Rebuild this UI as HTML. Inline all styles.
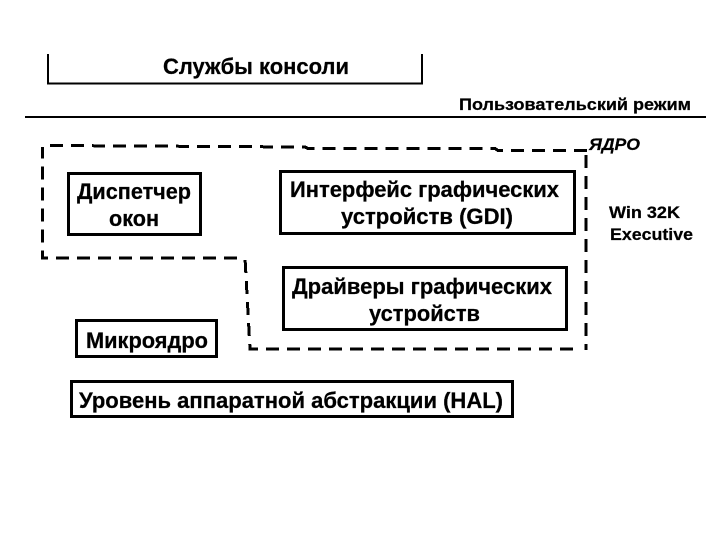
<!DOCTYPE html>
<html lang="ru">
<head>
<meta charset="utf-8">
<style>
html,body{margin:0;padding:0;background:#fff;}
svg{display:block;}
text{font-family:"Liberation Sans",sans-serif;font-weight:bold;fill:#000;stroke:#000;stroke-width:.25;}
.t{font-size:22px;}
.s{font-size:17px;}
</style>
</head>
<body>
<svg width="720" height="540" viewBox="0 0 720 540" xmlns="http://www.w3.org/2000/svg">
<rect width="720" height="540" fill="#fff"/>
<g fill="none" stroke="#000" shape-rendering="crispEdges">
<path d="M48 54V83.500H422V54" stroke-width="2"/>
<path d="M25 117H706" stroke-width="2"/>
<rect x="68.500" y="173.500" width="132" height="61" stroke-width="3"/>
<rect x="280.500" y="171.500" width="294" height="62" stroke-width="3"/>
<rect x="283.500" y="267.500" width="283" height="62" stroke-width="3"/>
<rect x="76.500" y="320.500" width="140" height="36" stroke-width="3"/>
<rect x="71.500" y="381.500" width="441" height="35" stroke-width="3"/>
<g stroke-width="3" stroke-dasharray="13 8">
<path d="M50 145.500L305 147L308 148.500H495L498 150.500H588"/>
<path d="M586 155V350"/>
<path d="M573 349H250L245 258"/>
<path d="M237 258H42.500V147"/>
</g>
</g>
<text class="t" x="163" y="74" textLength="186" lengthAdjust="spacingAndGlyphs">Службы консоли</text>
<text class="s" x="459" y="110" textLength="232" lengthAdjust="spacingAndGlyphs">Пользовательский режим</text>
<text class="s" x="589" y="150" textLength="51" lengthAdjust="spacingAndGlyphs" font-style="italic">ЯДРО</text>
<text class="s" x="609" y="218" textLength="71" lengthAdjust="spacingAndGlyphs">Win 32K</text>
<text class="s" x="610" y="240" textLength="83" lengthAdjust="spacingAndGlyphs">Executive</text>
<text class="t" x="77" y="199" textLength="114" lengthAdjust="spacingAndGlyphs">Диспетчер</text>
<text class="t" x="109" y="226" textLength="50" lengthAdjust="spacingAndGlyphs">окон</text>
<text class="t" x="290" y="197" textLength="269" lengthAdjust="spacingAndGlyphs">Интерфейс графических</text>
<text class="t" x="341" y="224" textLength="172" lengthAdjust="spacingAndGlyphs">устройств (GDI)</text>
<text class="t" x="292" y="294" textLength="260" lengthAdjust="spacingAndGlyphs">Драйверы графических</text>
<text class="t" x="369" y="321" textLength="111" lengthAdjust="spacingAndGlyphs">устройств</text>
<text class="t" x="86" y="348" textLength="122" lengthAdjust="spacingAndGlyphs">Микроядро</text>
<text class="t" x="79" y="408" textLength="424" lengthAdjust="spacingAndGlyphs">Уровень аппаратной абстракции (HAL)</text>
</svg>
</body>
</html>
